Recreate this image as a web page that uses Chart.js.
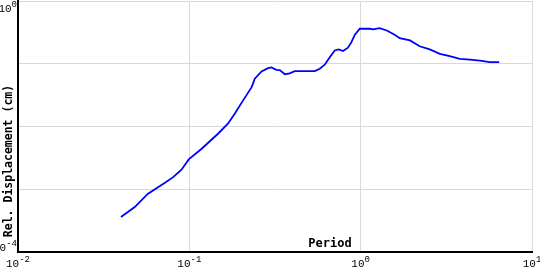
<!DOCTYPE html>
<html>
<head>
<meta charset="utf-8">
<script src="https://cdn.jsdelivr.net/npm/chart.js@4/dist/chart.umd.min.js"></script>
<style>
  html, body { margin: 0; padding: 0; background: #fff; }
  #chart { display: block; }
</style>
</head>
<body>
<canvas id="chart" width="540" height="270"></canvas>
<script>
// response spectrum (period in s, displacement in cm)
const periods = [
  0.0399, 0.0480, 0.0574, 0.0717, 0.0804, 0.0900, 0.0992, 0.118, 0.147, 0.168,
  0.184, 0.206, 0.231, 0.241, 0.264, 0.288, 0.301, 0.322, 0.337, 0.361,
  0.385, 0.412, 0.472, 0.540, 0.577, 0.617, 0.660, 0.706, 0.745, 0.789,
  0.843, 0.883, 0.925, 0.989, 1.13, 1.18, 1.29, 1.42, 1.58, 1.69,
  1.94, 2.21, 2.53, 2.90, 3.31, 3.79, 4.34, 4.96, 5.67, 6.43
];
const displacement = [
  3.60e-4, 5.21e-4, 8.51e-4, 1.26e-3, 1.56e-3, 2.05e-3, 2.99e-3, 4.42e-3, 7.67e-3, 0.0111,
  0.0160, 0.0261, 0.0424, 0.0577, 0.0753, 0.0851, 0.0873, 0.0801, 0.0791, 0.0682,
  0.0702, 0.0762, 0.0762, 0.0762, 0.0832, 0.0964, 0.127, 0.163, 0.169, 0.159,
  0.180, 0.221, 0.290, 0.361, 0.361, 0.352, 0.369, 0.339, 0.290, 0.256,
  0.235, 0.190, 0.169, 0.144, 0.132, 0.120, 0.116, 0.112, 0.106, 0.106
];

const xTicks = [0.01, 0.1, 1, 10];
const xTickLabels = ['10^-2', '10^-1', '10^0', '10^1'];
const yTicks = [1e-4, 1e-3, 1e-2, 1e-1, 1];
const yTickLabels = ['10^-4', '', '', '', '10^0'];

const xTitle = 'Period';
const yTitle = 'Rel. Displacement (cm)';

const BASE_FONT = '11px "Liberation Mono", "DejaVu Sans Mono", monospace';
const EXP_FONT = '9px "Liberation Mono", "DejaVu Sans Mono", monospace';
const TITLE_FONT = 'bold 12px "DejaVu Sans Mono", "Liberation Mono", monospace';

function labelWidth(ctx, label) {
  const [base, exp] = label.split('^');
  ctx.font = BASE_FONT;
  const wb = ctx.measureText(base).width;
  ctx.font = EXP_FONT;
  const we = ctx.measureText(exp || '').width;
  return wb + we;
}

function drawPowLabel(ctx, label, x, baseline) {
  const [base, exp] = label.split('^');
  ctx.textAlign = 'left';
  ctx.textBaseline = 'alphabetic';
  ctx.font = BASE_FONT;
  ctx.fillText(base, x, baseline);
  const wb = ctx.measureText(base).width;
  ctx.font = EXP_FONT;
  ctx.fillText(exp || '', x + wb, baseline - 5);
}

const labelPlugin = {
  id: 'labels',
  afterDraw(chart) {
    const ctx = chart.ctx;
    const xs = chart.scales.x, ys = chart.scales.y;
    ctx.save();
    ctx.fillStyle = '#000';

    xTicks.forEach((v, i) => {
      const px = xs.getPixelForValue(v);
      const w = labelWidth(ctx, xTickLabels[i]);
      drawPowLabel(ctx, xTickLabels[i], px - w / 2, 267);
    });

    yTicks.forEach((v, i) => {
      if (!yTickLabels[i]) return;
      const py = ys.getPixelForValue(v);
      const w = labelWidth(ctx, yTickLabels[i]);
      const baseline = Math.min(Math.max(py + 4, 12), 251);
      drawPowLabel(ctx, yTickLabels[i], 17 - w, baseline);
    });

    ctx.font = TITLE_FONT;
    ctx.textAlign = 'center';
    ctx.textBaseline = 'alphabetic';
    ctx.fillText(xTitle, 330, 247);

    ctx.translate(12, 161);
    ctx.rotate(-Math.PI / 2);
    ctx.font = 'bold 11.5px "DejaVu Sans Mono", "Liberation Mono", monospace';
    ctx.fillText(yTitle, 0, 0);
    ctx.restore();
  }
};

new Chart(document.getElementById('chart'), {
  type: 'line',
  data: {
    datasets: [{
      data: periods.map((p, i) => ({ x: p, y: displacement[i] })),
      borderColor: '#0000ff',
      borderWidth: 1.8,
      pointRadius: 0,
      tension: 0,
      fill: false
    }]
  },
  options: {
    responsive: false,
    animation: false,
    devicePixelRatio: 1,
    layout: { padding: { left: 18, right: 8, top: 1, bottom: 18 } },
    plugins: {
      legend: { display: false },
      tooltip: { enabled: false }
    },
    scales: {
      x: {
        type: 'logarithmic',
        min: 0.01,
        max: 10,
        afterBuildTicks: (axis) => { axis.ticks = xTicks.map(v => ({ value: v })); },
        ticks: { display: false },
        grid: { color: '#d9d9d9', lineWidth: 1, drawTicks: false },
        border: { color: '#000', width: 2 }
      },
      y: {
        type: 'logarithmic',
        min: 1e-4,
        max: 1,
        afterBuildTicks: (axis) => { axis.ticks = yTicks.map(v => ({ value: v })); },
        ticks: { display: false },
        grid: { color: '#d9d9d9', lineWidth: 1, drawTicks: false },
        border: { color: '#000', width: 2 }
      }
    }
  },
  plugins: [labelPlugin]
});
</script>
</body>
</html>
